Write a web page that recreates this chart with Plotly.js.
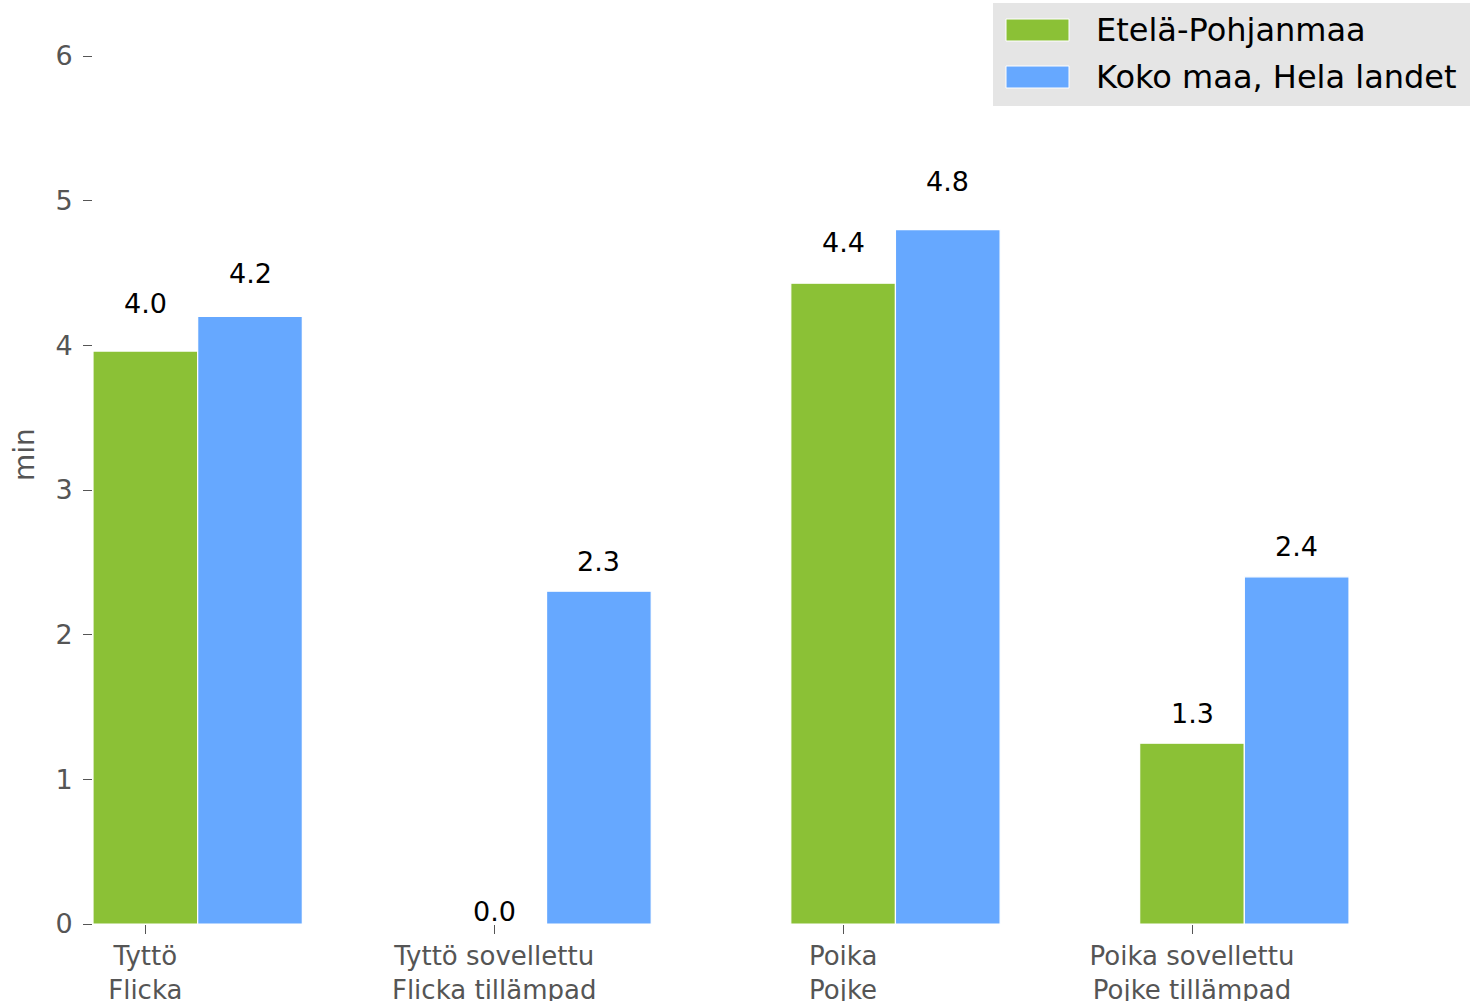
<!DOCTYPE html>
<html>
<head>
<meta charset="utf-8">
<script src="https://cdn.plot.ly/plotly-3.0.1.min.js"></script>
<style>html,body{margin:0;padding:0;background:#fff;}#chart{width:1481px;height:1001px;}</style>
</head>
<body>
<div id="chart"></div>
<script>
// ---- data ----
const categories = ["Tyttö<br>Flicka", "Tyttö sovellettu<br>Flicka tillämpad", "Poika<br>Pojke", "Poika sovellettu<br>Pojke tillämpad"];
const seriesNames = ["Etelä-Pohjanmaa", "Koko maa, Hela landet"];
const etelaPohjanmaa = [3.96, 0.0, 4.43, 1.25];
const kokoMaa = [4.2, 2.3, 4.8, 2.4];
const etelaPohjanmaaLabels = [4.0, 0.0, 4.4, 1.3];
const kokoMaaLabels = [4.2, 2.3, 4.8, 2.4];
const yTicks = [0, 1, 2, 3, 4, 5, 6];
const yTitle = "min";

// ---- style ----
const colors = ["#8bc136", "#66a8ff"];
const barW = 0.3;
const FONT = "DejaVu Sans, sans-serif";
const W = 1481, H = 1001;
const plotL = 93, plotR = 1349, plotT = 56, plotB = 924;

const idx = categories.map((_, i) => i);
const allSeries = [etelaPohjanmaa, kokoMaa];
const allLabels = [etelaPohjanmaaLabels, kokoMaaLabels];

const traces = [];
allSeries.forEach((vals, s) => {
  const xs = idx.map(i => i + s * barW);
  traces.push({
    type: "bar", x: xs, y: vals, width: barW, name: seriesNames[s],
    marker: {color: colors[s], line: {color: "#ffffff", width: 1.2}},
    showlegend: false, hoverinfo: "skip"
  });
});

const annotations = [];
allLabels.forEach((labs, s) => {
  labs.forEach((v, i) => {
    annotations.push({
      xref: "x", yref: "y", x: i + s * barW, y: v * 1.05,
      text: v.toFixed(1), showarrow: false, xanchor: "center", yanchor: "middle", yshift: 13,
      font: {family: FONT, size: 27, color: "#000000"}
    });
  });
});

// custom legend (matplotlib-style wide swatches)
const pw = plotR - plotL, ph = plotB - plotT;
const px = x => (x - plotL) / pw;
const py = y => (plotB - y) / ph;
const shapes = [
  {type: "rect", xref: "paper", yref: "paper", x0: px(993), x1: px(1470), y0: py(106), y1: py(3),
   fillcolor: "#e5e5e5", line: {width: 0}, layer: "below"}
];
const rowY = [30, 77];
seriesNames.forEach((n, s) => {
  shapes.push({type: "rect", xref: "paper", yref: "paper", x0: px(1006), x1: px(1069),
    y0: py(rowY[s] + 11), y1: py(rowY[s] - 11), fillcolor: colors[s], line: {color: "#ffffff", width: 1}});
  annotations.push({xref: "paper", yref: "paper", x: px(1094), y: py(rowY[s]), xanchor: "left", yanchor: "middle",
    text: n, showarrow: false, font: {family: FONT, size: 32, color: "#000000"}});
});

// y-axis title placed like the reference (rotated)
annotations.push({xref: "paper", yref: "paper", x: px(24), y: py(455), xanchor: "center", yanchor: "middle",
  text: yTitle, textangle: -90, showarrow: false, font: {family: FONT, size: 28, color: "#555555"}});

const layout = {
  width: W, height: H,
  margin: {l: plotL, r: W - plotR, t: plotT, b: H - plotB, pad: 0},
  paper_bgcolor: "#ffffff", plot_bgcolor: "#ffffff",
  barmode: "overlay",
  showlegend: false,
  font: {family: FONT, size: 26, color: "#555555"},
  xaxis: {
    range: [-barW / 2, categories.length - 1 + 1.5 * barW],
    tickvals: idx, ticktext: categories,
    ticks: "outside", ticklen: 9, tickcolor: "#555555", tickwidth: 1,
    showgrid: false, zeroline: false, showline: false,
    tickfont: {family: FONT, size: 26, color: "#555555"}
  },
  yaxis: {
    range: [0, 6], tickvals: yTicks,
    ticks: "outside", ticklen: 9, tickcolor: "#555555", tickwidth: 1,
    ticklabelstandoff: 5,
    showgrid: false, zeroline: false, showline: false,
    tickfont: {family: FONT, size: 27, color: "#555555"}
  },
  shapes: shapes,
  annotations: annotations
};

Plotly.newPlot("chart", traces, layout, {displayModeBar: false, staticPlot: true});
</script>
</body>
</html>
